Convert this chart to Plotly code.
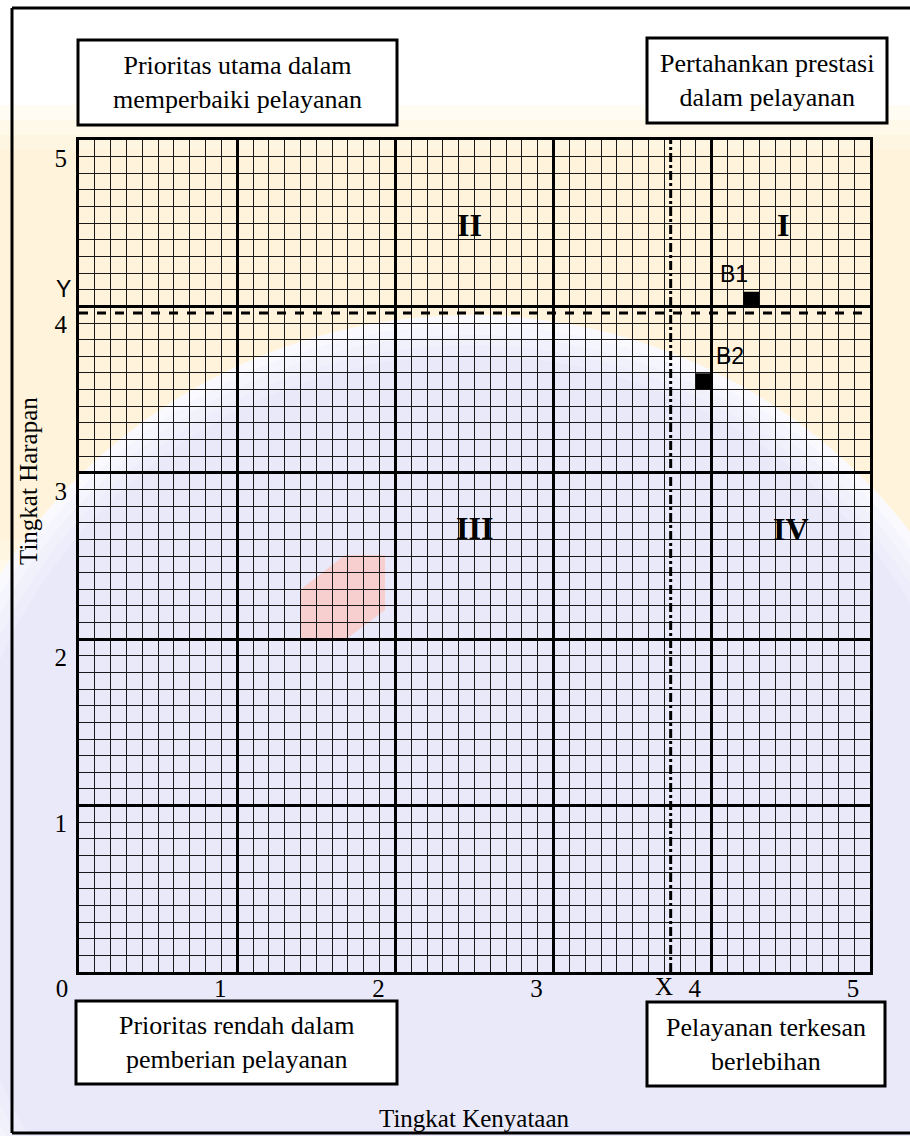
import plotly.graph_objects as go

# ---------------- data ----------------
categories = ["B1", "B2"]
kenyataan = [4.25, 3.95]          # x: Tingkat Kenyataan
harapan = [4.04, 3.55]            # y: Tingkat Harapan
x_mean = 3.74
y_mean = 3.96
x_ticks = [0, 1, 2, 3, 4, 5]
x_tick_text = ["0", "1", "2", "3", "4", "5"]
y_ticks = [1, 2, 3, 4, 5]
y_tick_text = ["1", "2", "3", "4", "5"]
quadrants = ["I", "II", "III", "IV"]
quadrant_x = [4.45, 2.47, 2.50, 4.50]
quadrant_y = [4.49, 4.49, 2.67, 2.66]
box_texts = [
    "Prioritas utama dalam<br>memperbaiki pelayanan",
    "Pertahankan prestasi<br>dalam pelayanan",
    "Prioritas rendah dalam<br>pemberian pelayanan",
    "Pelayanan terkesan<br>berlebihan",
]

# ---------------- layout geometry (pixels) ----------------
W, H = 910, 1136
L, R, T, B = 79, 40, 140, 164
PW, PH = W - L - R, H - T - B


def fx(px):
    return (px - L) / PW


def fy(py):
    return (H - B - py) / PH


SERIF = "Liberation Serif, Times New Roman, serif"
SANS = "Liberation Sans, Arial, sans-serif"

fig = go.Figure()

fig.add_trace(go.Scatter(
    x=kenyataan, y=harapan, mode="markers",
    marker=dict(symbol="square", size=16, color="black"),
    showlegend=False, hoverinfo="skip",
))

shapes = []
# watermark-like background tints (soft, layered)
for i in range(4):
    shapes.append(dict(type="rect", xref="paper", yref="paper", layer="below",
                       x0=fx(0), x1=fx(910), y0=fy(105 + 15 * i), y1=fy(600 - 20 * i),
                       fillcolor="rgba(252,232,180,0.14)", line=dict(width=0)))
CX, CY, R0 = 470, 870, 555
shapes.append(dict(type="circle", xref="paper", yref="paper", layer="below",
                   x0=fx(CX - R0), x1=fx(CX + R0), y0=fy(CY - R0), y1=fy(CY + R0),
                   fillcolor="white", line=dict(width=0)))
for i in range(5):
    r = R0 - 10 * i
    shapes.append(dict(type="circle", xref="paper", yref="paper", layer="below",
                       x0=fx(CX - r), x1=fx(CX + r), y0=fy(CY - r), y1=fy(CY + r),
                       fillcolor="rgba(205,210,250,0.10)", line=dict(width=0)))
shapes.append(dict(type="path", xref="paper", yref="paper", layer="below",
                   path=(f"M {fx(300)},{fy(640)} L {fx(300)},{fy(590)} L {fx(345)},{fy(555)} "
                         f"L {fx(385)},{fy(555)} L {fx(385)},{fy(610)} L {fx(345)},{fy(640)} Z"),
                   fillcolor="rgba(250,200,195,0.8)", line=dict(width=0)))

# outer frame (left, top, bottom)
for (x0, y0, x1, y1) in [(12, 8, 12, 1133), (12, 8, 915, 8), (12, 1133, 915, 1133)]:
    shapes.append(dict(type="line", xref="paper", yref="paper",
                       x0=fx(x0), y0=fy(y0), x1=fx(x1), y1=fy(y1),
                       line=dict(color="black", width=3)))

# text boxes
boxes = [(78, 40, 397, 125), (647, 38, 887, 123), (76, 1001, 397, 1084), (647, 1002, 885, 1086)]
for (x0, y0, x1, y1) in boxes:
    shapes.append(dict(type="rect", xref="paper", yref="paper",
                       x0=fx(x0), y0=fy(y0), x1=fx(x1), y1=fy(y1),
                       fillcolor="white", line=dict(color="black", width=3)))

# mean lines
shapes.append(dict(type="line", xref="x", yref="y", x0=x_mean, x1=x_mean, y0=0, y1=5,
                   line=dict(color="black", width=3, dash="dashdot")))
shapes.append(dict(type="line", xref="x", yref="y", x0=0, x1=5, y0=y_mean, y1=y_mean,
                   line=dict(color="black", width=3, dash="dash")))

annotations = []
for (x0, y0, x1, y1), txt in zip(boxes, box_texts):
    annotations.append(dict(x=fx((x0 + x1) / 2), y=fy((y0 + y1) / 2), xref="paper", yref="paper",
                            xanchor="center", yanchor="middle",
                            text=txt, showarrow=False, align="center",
                            font=dict(family=SERIF, size=26, color="black")))

for q, qx, qy in zip(quadrants, quadrant_x, quadrant_y):
    annotations.append(dict(x=qx, y=qy, xref="x", yref="y", text=f"<b>{q}</b>",
                            xanchor="center", yanchor="middle",
                            showarrow=False, font=dict(family=SERIF, size=32, color="black")))

offsets = [(-17, 26), (26, 25)]
for c, xv, yv, (dx, dy) in zip(categories, kenyataan, harapan, offsets):
    annotations.append(dict(x=xv, y=yv, xref="x", yref="y", text=c, showarrow=False,
                            xanchor="center", yanchor="middle",
                            xshift=dx, yshift=dy,
                            font=dict(family=SANS, size=23, color="black")))

# X and Y mean labels
annotations.append(dict(x=x_mean, y=0, xref="x", yref="y", text="X", showarrow=False,
                        xanchor="center", yanchor="middle",
                        xshift=-7, yshift=-14, font=dict(family=SERIF, size=25, color="black")))
annotations.append(dict(x=0, y=y_mean, xref="x", yref="y", text="Y", showarrow=False,
                        xanchor="center", yanchor="middle",
                        xshift=-16, yshift=24, font=dict(family=SANS, size=23, color="black")))

# axis titles
annotations.append(dict(x=fx(474), y=fy(1118), xref="paper", yref="paper",
                        xanchor="center", yanchor="middle",
                        text="Tingkat Kenyataan", showarrow=False,
                        font=dict(family=SERIF, size=25, color="black")))
annotations.append(dict(x=fx(28), y=fy(481), xref="paper", yref="paper",
                        xanchor="center", yanchor="middle",
                        text="Tingkat Harapan", showarrow=False, textangle=-90,
                        font=dict(family=SERIF, size=25, color="black")))

axis_common = dict(
    showgrid=True, gridcolor="black", gridwidth=3,
    showline=True, linecolor="black", linewidth=3, mirror=True,
    zeroline=False, ticks="", fixedrange=True,
    tickfont=dict(family=SERIF, size=25, color="black"),
    minor=dict(dtick=0.1, tick0=0, showgrid=True, gridcolor="#1a1a1a", gridwidth=1.2),
)

fig.update_layout(
    width=W, height=H, autosize=False,
    margin=dict(l=L, r=R, t=T, b=B),
    paper_bgcolor="white", plot_bgcolor="rgba(0,0,0,0)",
    showlegend=False,
    shapes=shapes, annotations=annotations,
    xaxis=dict(axis_common, range=[0, 5], tickmode="array", tickvals=x_ticks,
               ticktext=x_tick_text, ticklabelshift=-17, ticklabelstandoff=-8),
    yaxis=dict(axis_common, range=[0, 5], tickmode="array", tickvals=y_ticks,
               ticktext=y_tick_text, ticklabelshift=18, ticklabelstandoff=4),
)

fig.write_html(
    "out.html",
    config={"displayModeBar": False},
    post_script="document.body.style.margin='0';document.body.style.overflow='hidden';",
)
